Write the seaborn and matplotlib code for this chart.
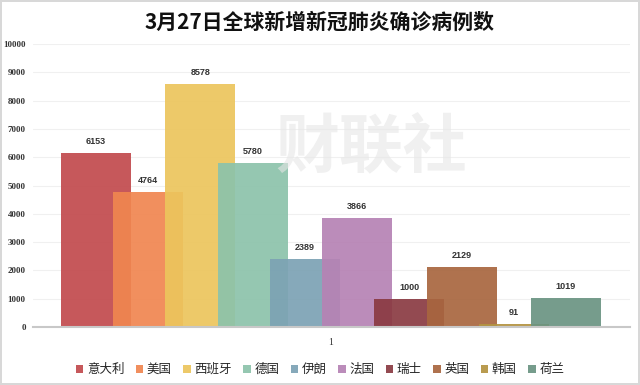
import matplotlib
matplotlib.use("Agg")
import matplotlib.pyplot as plt
import seaborn as sns
import pandas as pd
from matplotlib.patches import Patch

countries = ["意大利", "美国", "西班牙", "德国", "伊朗", "法国", "瑞士", "英国", "韩国", "荷兰"]
values = [6153, 4764, 8578, 5780, 2389, 3866, 1000, 2129, 91, 1019]
colors = ["#c24a4d", "#f08650", "#ecc55c", "#8cc3ab", "#7ca2b4", "#b682b4", "#8a3a42", "#a8663f", "#b39340", "#6a9482"]
yticks = [0, 1000, 2000, 3000, 4000, 5000, 6000, 7000, 8000, 9000, 10000]
title = "3月27日全球新增新冠肺炎确诊病例数"
category_label = "1"

sns.set_theme(style="white")
plt.rcParams['font.family'] = ['Noto Sans CJK SC', 'DejaVu Sans']

df = pd.DataFrame({"country": countries, "value": values})

fig = plt.figure(figsize=(6.4, 3.85), dpi=100)
ax = fig.add_axes([0.052, 0.1506, 0.932, 0.735])

sns.barplot(data=df, x="country", y="value", hue="country", palette=colors,
            width=1.34, alpha=0.92, legend=False, ax=ax, saturation=1, linewidth=0)

ax.set_ylim(0, 10000)
ax.set_xlim(-1.2, 10.22)
ax.set_yticks(yticks)
ax.set_yticklabels([str(t) for t in yticks], fontsize=6.5, fontweight="bold", color="#333333",
                   family=["Liberation Serif"])
ax.tick_params(axis="y", length=0, pad=5.5)
ax.set_xticks([4.5])
ax.set_xticklabels([category_label], fontsize=7, color="#333333", family=["Liberation Serif"])
ax.tick_params(axis="x", length=0, pad=8)
ax.set_xlabel("")
ax.set_ylabel("")
ax.grid(axis="y", color="#f0f0f0", linewidth=0.8)
ax.set_axisbelow(True)
for s in ["left", "right", "top"]:
    ax.spines[s].set_visible(False)
ax.spines["bottom"].set_color("#c8c8c8")
ax.spines["bottom"].set_linewidth(1.5)

for i, v in enumerate(values):
    ax.text(i, v + 250, str(v), ha="center", va="bottom", fontsize=6.5, fontweight="bold", color="#333333",
            family=["Liberation Sans"])

# watermark
fig.text(0.58, 0.615, "财联社", fontsize=46, fontweight="bold", color="#e6e6e6", alpha=0.6,
         ha="center", va="center", zorder=0.5)

fig.text(0.5, 0.942, title, ha="center", va="center", fontsize=15, fontweight="bold", color="#111111")

handles = [Patch(facecolor=c, edgecolor="none", alpha=0.92) for c in colors]
fig.legend(handles, countries, loc="center", bbox_to_anchor=(0.5, 0.04), ncol=10, frameon=False,
           fontsize=9, handlelength=0.6, handleheight=0.6, handletextpad=0.3, columnspacing=0.9)

fig.patch.set_edgecolor("#d8d8d8")
fig.patch.set_linewidth(1.5)
fig.savefig("out.png", dpi=100, edgecolor=fig.get_edgecolor())
